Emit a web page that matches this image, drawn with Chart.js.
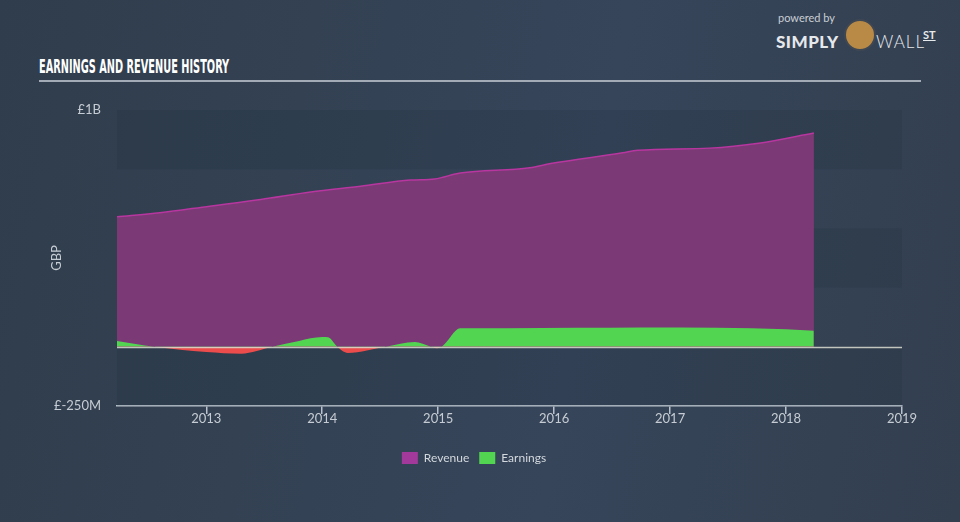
<!DOCTYPE html>
<html>
<head>
<meta charset="utf-8">
<script src="https://cdn.jsdelivr.net/npm/chart.js@4"></script>
<style>
  html, body { margin: 0; padding: 0; }
  body {
    width: 960px; height: 522px; overflow: hidden; position: relative;
    background: linear-gradient(100deg, #303d4c 0%, #36455a 60%, #333f4f 100%);
    font-family: Lato, "Open Sans", sans-serif;
  }
  #title {
    position: absolute; left: 39px; top: 55px; transform-origin: 0 0;
    font-family: "DejaVu Sans", sans-serif;
    font-weight: bold; font-size: 19px; color: #ffffff; white-space: nowrap;
  }
  #rule { position: absolute; left: 39px; top: 80px; width: 882px; height: 2px; background: #a3acb6; }
  #logo { position: absolute; left: 776px; top: 11px; color: #e6e9ec; }
  #logo .pb { position: absolute; left: 2px; top: 0; font-size: 11px; color: #c9ced4; white-space: nowrap; }
  #logo .simply { position: absolute; left: 0; top: 20px; font-size: 17px; font-weight: 900; letter-spacing: 0.5px; white-space: nowrap; }
  #logo .bull { position: absolute; left: 68px; top: 8px; width: 28px; height: 28px; border-radius: 50%; background: #b98a45; border: 2px solid #3f4753; }
  #logo .wall { position: absolute; left: 100px; top: 20px; font-size: 17px; font-weight: 300; letter-spacing: 1px; white-space: nowrap; }
  #logo .st { position: absolute; left: 147px; top: 17px; font-size: 11px; font-weight: 700; text-decoration: underline; }
  canvas { position: absolute; left: 0; top: 0; }
</style>
</head>
<body>
<div id="title">EARNINGS AND REVENUE HISTORY</div>
<div id="rule"></div>
<div id="logo">
  <div class="pb">powered by</div>
  <div class="simply">SIMPLY</div>
  <div class="bull"></div>
  <div class="wall">WALL</div>
  <div class="st">ST</div>
</div>
<canvas id="myChart" width="960" height="522"></canvas>
<script>
// squeeze the heading into the narrow width of the original
const title = document.getElementById('title');
title.style.transform = 'scaleX(' + (190 / title.offsetWidth) + ')';

// values in billions of GBP, x in decimal years
const revenueYears = [2012.23, 2012.60, 2013.03, 2013.47, 2013.90, 2014.33, 2014.76, 2014.97, 2015.19,
  2015.79, 2015.97, 2016.59, 2016.72, 2017.34, 2017.78, 2018.24];
const revenue = [0.549, 0.566, 0.594, 0.622, 0.654, 0.678, 0.704, 0.709, 0.734,
  0.756, 0.774, 0.819, 0.830, 0.839, 0.861, 0.903];

const earningsYears = [2012.23, 2012.55, 2013.0, 2013.3, 2013.57, 2013.8, 2014.0, 2014.05, 2014.13, 2014.22,
  2014.55, 2014.8, 2014.92, 2014.99, 2015.04, 2015.19, 2015.6, 2016.2, 2016.75, 2017.4, 2018.0, 2018.24];
const earnings = [0.025, 0.0, -0.022, -0.029, 0.0, 0.025, 0.041, 0.040, 0.0, -0.026,
  0.0, 0.02, 0.003, -0.006, 0.004, 0.078, 0.078, 0.080, 0.082, 0.080, 0.074, 0.068];

const xTicks = [2013, 2014, 2015, 2016, 2017, 2018, 2019];
const yMin = -0.25, yMax = 1.0;
const bandEdges = [1.0, 0.75, 0.5, 0.25, 0, -0.25];

const pts = (xs, ys) => xs.map((x, i) => ({ x: x, y: ys[i] }));

// shaded stripes and zero line
const backdrop = {
  id: 'backdrop',
  beforeDatasetsDraw(chart) {
    const { ctx, chartArea: a, scales: { y } } = chart;
    ctx.save();
    for (let i = 0; i < bandEdges.length - 1; i += 2) {
      const t = y.getPixelForValue(bandEdges[i]);
      const b = y.getPixelForValue(bandEdges[i + 1]);
      ctx.fillStyle = 'rgba(20,30,42,0.12)';
      ctx.fillRect(a.left, t, a.right - a.left, b - t);
    }
    ctx.restore();
  },
  afterDatasetsDraw(chart) {
    const { ctx, chartArea: a, scales: { y } } = chart;
    const z = Math.round(y.getPixelForValue(0)) + 0.5;
    ctx.save();
    ctx.strokeStyle = 'rgba(220,222,210,0.85)';
    ctx.lineWidth = 1.5;
    ctx.beginPath();
    ctx.moveTo(a.left, z);
    ctx.lineTo(a.right, z);
    ctx.stroke();
    ctx.restore();
  }
};

const ctx = document.getElementById('myChart').getContext('2d');
const c = new Chart(ctx, {
  type: 'line',
  data: {
    datasets: [{
      label: 'Revenue',
      data: pts(revenueYears, revenue),
      borderColor: '#b7369f',
      borderWidth: 1.5,
      backgroundColor: '#a3399a',
      fill: { target: 'origin', above: '#7b3a76', below: '#7b3a76' },
      pointRadius: 0,
      cubicInterpolationMode: 'monotone',
      order: 1
    }, {
      label: 'Earnings',
      data: pts(earningsYears, earnings),
      borderColor: 'rgba(0,0,0,0)',
      borderWidth: 0,
      backgroundColor: '#52d651',
      fill: { target: { value: 0 }, above: '#52d651', below: '#ec4c4c' },
      pointRadius: 0,
      cubicInterpolationMode: 'monotone',
      order: 0
    }]
  },
  options: {
    responsive: false,
    animation: false,
    layout: { padding: { left: 46, right: 58, top: 110, bottom: 48 } },
    plugins: {
      tooltip: { enabled: false },
      legend: {
        position: 'bottom',
        labels: {
          color: '#d3d8dd',
          font: { family: 'Lato', size: 12 },
          boxWidth: 16,
          boxHeight: 12,
          padding: 10,
          sort: (a, b) => a.datasetIndex - b.datasetIndex,
          generateLabels(chart) {
            return chart.data.datasets.map((d, i) => ({
              text: d.label, fillStyle: d.backgroundColor, strokeStyle: d.backgroundColor,
              lineWidth: 0, datasetIndex: i, fontColor: '#d3d8dd'
            }));
          }
        }
      }
    },
    scales: {
      x: {
        type: 'linear',
        min: 2012.23,
        max: 2019,
        afterBuildTicks(scale) { scale.ticks = xTicks.map(v => ({ value: v })); },
        afterFit(scale) { scale.height = 36; },
        border: { display: true, color: '#b9c2cc', width: 1.5 },
        grid: { drawOnChartArea: false, drawTicks: true, tickLength: 8, color: '#b9c2cc', lineWidth: 1.5 },
        ticks: {
          color: '#c6ccd3', font: { family: 'Lato', size: 13 }, padding: -3,
          maxRotation: 0, autoSkip: false,
          callback: v => String(v)
        }
      },
      y: {
        min: yMin,
        max: yMax,
        afterBuildTicks(scale) { scale.ticks = [yMin, yMax].map(v => ({ value: v })); },
        afterFit(scale) { scale.width = 71; },
        border: { display: false },
        grid: { display: false },
        ticks: {
          color: '#c6ccd3', font: { family: 'Lato', size: 13 }, padding: 8,
          callback: v => v === yMax ? '£1B' : '£-250M'
        },
        title: {
          display: true, text: 'GBP', color: '#c6ccd3',
          font: { family: 'Lato', size: 13 }, padding: 3
        }
      }
    }
  },
  plugins: [backdrop]
});
</script>
</body>
</html>
